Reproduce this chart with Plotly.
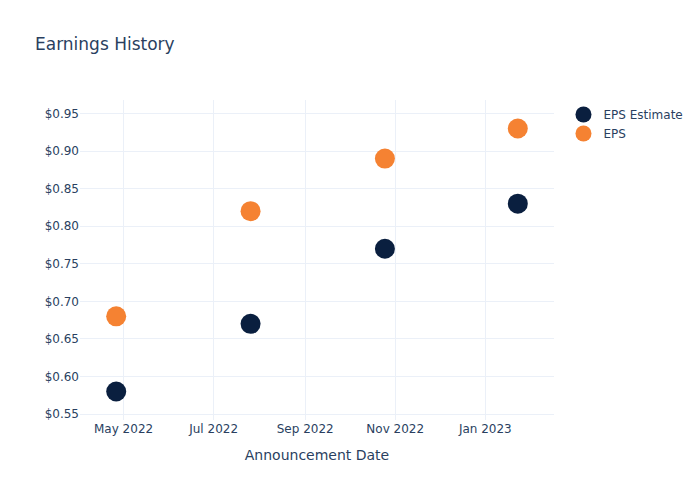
import plotly.graph_objects as go

dates = ["2022-04-26", "2022-07-26", "2022-10-25", "2023-01-23"]
eps_estimate = [0.58, 0.67, 0.77, 0.83]
eps_actual = [0.68, 0.82, 0.89, 0.93]

fig = go.Figure()
fig.add_trace(go.Scatter(x=dates, y=eps_estimate, mode="markers", name="EPS Estimate",
                         marker=dict(color="#0A1F3F", size=20)))
fig.add_trace(go.Scatter(x=dates, y=eps_actual, mode="markers", name="EPS",
                         marker=dict(color="#F58232", size=20)))
fig.update_layout(
    template="plotly_white",
    width=700, height=500,
    font=dict(family="DejaVu Sans"),
    title=dict(text="Earnings History"),
    xaxis=dict(title=dict(text="Announcement Date")),
    yaxis=dict(tickprefix="$", tickformat=".2f"),
)
fig.write_html("out.html")
